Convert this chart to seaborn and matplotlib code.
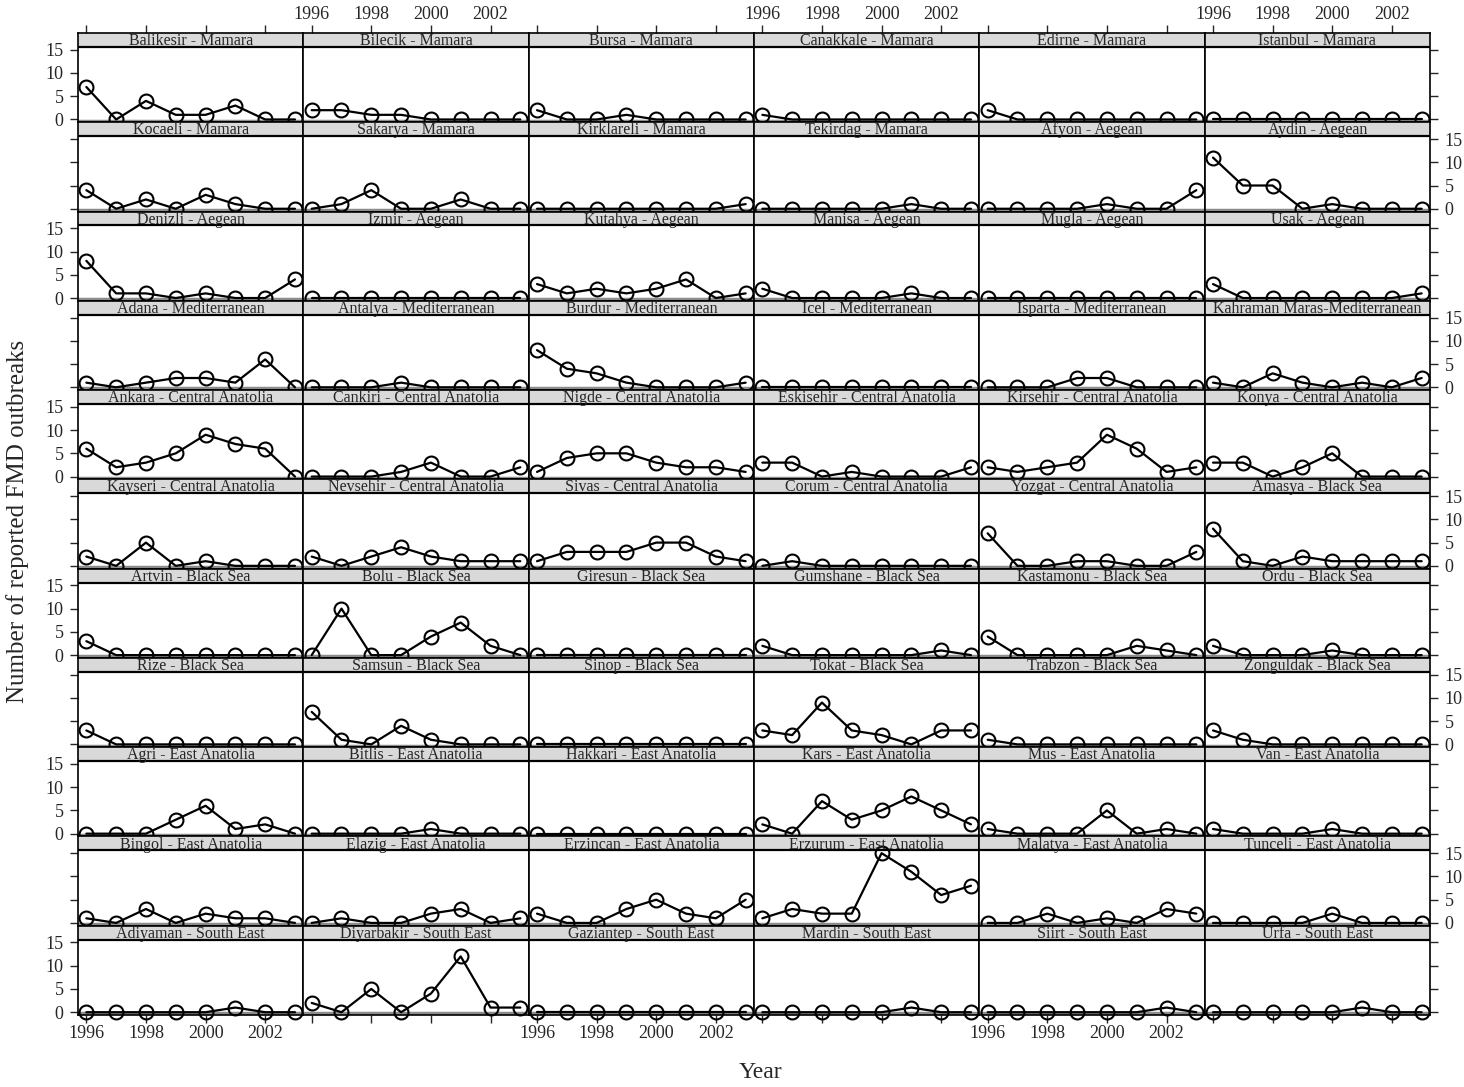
import numpy as np
import pandas as pd
import matplotlib
matplotlib.use("Agg")
import matplotlib.pyplot as plt
from matplotlib.patches import Rectangle
import seaborn as sns

years = [1996, 1997, 1998, 1999, 2000, 2001, 2002, 2003]

provinces = [
    "Balikesir - Mamara", "Bilecik - Mamara", "Bursa - Mamara", "Canakkale - Mamara", "Edirne - Mamara", "Istanbul - Mamara",
    "Kocaeli - Mamara", "Sakarya - Mamara", "Kirklareli - Mamara", "Tekirdag - Mamara", "Afyon - Aegean", "Aydin - Aegean",
    "Denizli - Aegean", "Izmir - Aegean", "Kutahya - Aegean", "Manisa - Aegean", "Mugla - Aegean", "Usak - Aegean",
    "Adana - Mediterranean", "Antalya - Mediterranean", "Burdur - Mediterranean", "Icel - Mediterranean", "Isparta - Mediterranean", "Kahraman Maras-Mediterranean",
    "Ankara - Central Anatolia", "Cankiri - Central Anatolia", "Nigde - Central Anatolia", "Eskisehir - Central Anatolia", "Kirsehir - Central Anatolia", "Konya - Central Anatolia",
    "Kayseri - Central Anatolia", "Nevsehir - Central Anatolia", "Sivas - Central Anatolia", "Corum - Central Anatolia", "Yozgat - Central Anatolia", "Amasya - Black Sea",
    "Artvin - Black Sea", "Bolu - Black Sea", "Giresun - Black Sea", "Gumshane - Black Sea", "Kastamonu - Black Sea", "Ordu - Black Sea",
    "Rize - Black Sea", "Samsun - Black Sea", "Sinop - Black Sea", "Tokat - Black Sea", "Trabzon - Black Sea", "Zonguldak - Black Sea",
    "Agri - East Anatolia", "Bitlis - East Anatolia", "Hakkari - East Anatolia", "Kars - East Anatolia", "Mus - East Anatolia", "Van - East Anatolia",
    "Bingol - East Anatolia", "Elazig - East Anatolia", "Erzincan - East Anatolia", "Erzurum - East Anatolia", "Malatya - East Anatolia", "Tunceli - East Anatolia",
    "Adiyaman - South East", "Diyarbakir - South East", "Gaziantep - South East", "Mardin - South East", "Siirt - South East", "Urfa - South East",
]

outbreaks = [
    [7, 0, 4, 1, 1, 3, 0, 0], [2, 2, 1, 1, 0, 0, 0, 0], [2, 0, 0, 1, 0, 0, 0, 0], [1, 0, 0, 0, 0, 0, 0, 0], [2, 0, 0, 0, 0, 0, 0, 0], [0, 0, 0, 0, 0, 0, 0, 0],
    [4, 0, 2, 0, 3, 1, 0, 0], [0, 1, 4, 0, 0, 2, 0, 0], [0, 0, 0, 0, 0, 0, 0, 1], [0, 0, 0, 0, 0, 1, 0, 0], [0, 0, 0, 0, 1, 0, 0, 4], [11, 5, 5, 0, 1, 0, 0, 0],
    [8, 1, 1, 0, 1, 0, 0, 4], [0, 0, 0, 0, 0, 0, 0, 0], [3, 1, 2, 1, 2, 4, 0, 1], [2, 0, 0, 0, 0, 1, 0, 0], [0, 0, 0, 0, 0, 0, 0, 0], [3, 0, 0, 0, 0, 0, 0, 1],
    [1, 0, 1, 2, 2, 1, 6, 0], [0, 0, 0, 1, 0, 0, 0, 0], [8, 4, 3, 1, 0, 0, 0, 1], [0, 0, 0, 0, 0, 0, 0, 0], [0, 0, 0, 2, 2, 0, 0, 0], [1, 0, 3, 1, 0, 1, 0, 2],
    [6, 2, 3, 5, 9, 7, 6, 0], [0, 0, 0, 1, 3, 0, 0, 2], [1, 4, 5, 5, 3, 2, 2, 1], [3, 3, 0, 1, 0, 0, 0, 2], [2, 1, 2, 3, 9, 6, 1, 2], [3, 3, 0, 2, 5, 0, 0, 0],
    [2, 0, 5, 0, 1, 0, 0, 0], [2, 0, 2, 4, 2, 1, 1, 1], [1, 3, 3, 3, 5, 5, 2, 1], [0, 1, 0, 0, 0, 0, 0, 0], [7, 0, 0, 1, 1, 0, 0, 3], [8, 1, 0, 2, 1, 1, 1, 1],
    [3, 0, 0, 0, 0, 0, 0, 0], [0, 10, 0, 0, 4, 7, 2, 0], [0, 0, 0, 0, 0, 0, 0, 0], [2, 0, 0, 0, 0, 0, 1, 0], [4, 0, 0, 0, 0, 2, 1, 0], [2, 0, 0, 0, 1, 0, 0, 0],
    [3, 0, 0, 0, 0, 0, 0, 0], [7, 1, 0, 4, 1, 0, 0, 0], [0, 0, 0, 0, 0, 0, 0, 0], [3, 2, 9, 3, 2, 0, 3, 3], [1, 0, 0, 0, 0, 0, 0, 0], [3, 1, 0, 0, 0, 0, 0, 0],
    [0, 0, 0, 3, 6, 1, 2, 0], [0, 0, 0, 0, 1, 0, 0, 0], [0, 0, 0, 0, 0, 0, 0, 0], [2, 0, 7, 3, 5, 8, 5, 2], [1, 0, 0, 0, 5, 0, 1, 0], [1, 0, 0, 0, 1, 0, 0, 0],
    [1, 0, 3, 0, 2, 1, 1, 0], [0, 1, 0, 0, 2, 3, 0, 1], [2, 0, 0, 3, 5, 2, 1, 5], [1, 3, 2, 2, 15, 11, 6, 8], [0, 0, 2, 0, 1, 0, 3, 2], [0, 0, 0, 0, 2, 0, 0, 0],
    [0, 0, 0, 0, 0, 1, 0, 0], [2, 0, 5, 0, 4, 12, 1, 1], [0, 0, 0, 0, 0, 0, 0, 0], [0, 0, 0, 0, 0, 1, 0, 0], [0, 0, 0, 0, 0, 0, 1, 0], [0, 0, 0, 0, 0, 1, 0, 0],
]

x_ticks = [1996, 1998, 2000, 2002]
y_ticks = [0, 5, 10, 15]

rows = []
for name, vals in zip(provinces, outbreaks):
    for yr, v in zip(years, vals):
        rows.append({"province": name, "year": yr, "count": v})
df = pd.DataFrame(rows)

sns.set_style("ticks")
plt.rcParams['font.family'] = ['Liberation Serif', 'DejaVu Serif']

fig, axes = plt.subplots(11, 6, figsize=(14.64, 10.87), dpi=100)
fig.subplots_adjust(left=78/1464, right=1430/1464, top=1-33/1087, bottom=1-1015/1087,
                    wspace=0, hspace=0)

# data range + strip on top, all in one axes per panel
ylo, yhi, ystrip = -0.6, 15.6, 18.6
sfrac = (yhi - ylo) / (ystrip - ylo)

for i, ax in enumerate(axes.flat):
    name = provinces[i]
    r, c = divmod(i, 6)
    sub = df[df["province"] == name]
    ax.axhline(-0.25, color='#8c8c8c', lw=2.5, zorder=1)
    sns.lineplot(data=sub, x="year", y="count", ax=ax, errorbar=None, color='black', lw=1.6,
                 marker='o', markersize=10, markerfacecolor='none',
                 markeredgecolor='black', markeredgewidth=1.5, zorder=3, clip_on=False)
    ax.set_xlim(1995.72, 2003.28)
    ax.set_ylim(ylo, ystrip)
    ax.add_patch(Rectangle((0, sfrac), 1, 1 - sfrac, transform=ax.transAxes,
                           facecolor='#d9d9d9', edgecolor='none', zorder=0))
    ax.axhline(yhi, color='black', lw=1.6, zorder=2)
    ax.text(0.5, (sfrac + 1) / 2 - 0.012, name, transform=ax.transAxes, ha='center',
            va='center', fontsize=11.5)
    ax.set_xlabel("")
    ax.set_ylabel("")
    ax.set_xticks(x_ticks)
    ax.set_yticks(y_ticks)
    for s in ax.spines.values():
        s.set_linewidth(1.2)
        s.set_color('black')
    ax.tick_params(direction='out', length=5.5, width=1, labelsize=13,
                   left=(c == 0), labelleft=(c == 0 and r % 2 == 0),
                   right=(c == 5), labelright=(c == 5 and r % 2 == 1),
                   top=(r == 0), labeltop=(r == 0 and c % 2 == 1),
                   bottom=(r == 10), labelbottom=(r == 10 and c % 2 == 0))
    ax.tick_params(axis='y', pad=5)
    ax.tick_params(axis='x', pad=1.5)

fig.text(18/1464, 0.52, "Number of reported FMD outbreaks", rotation=90,
         ha='center', va='center', fontsize=18)
fig.text(760/1464, 1-1073/1087, "Year", ha='center', va='center', fontsize=17)

fig.savefig("out.png", dpi=100)
